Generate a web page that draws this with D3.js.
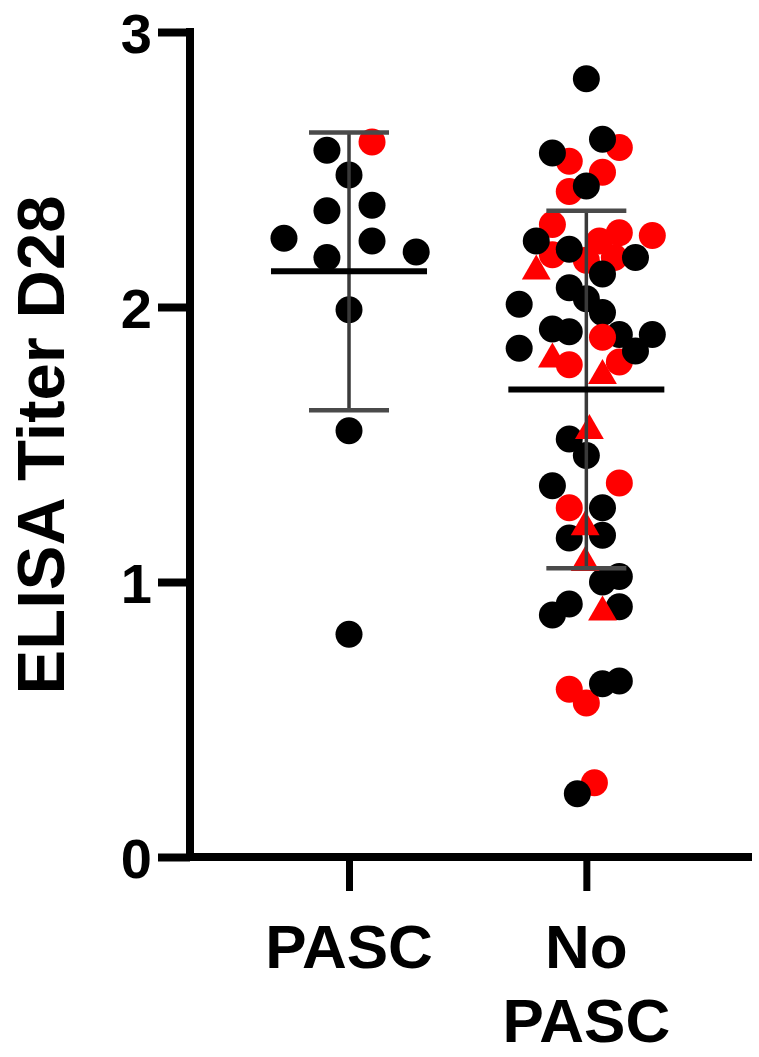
<!DOCTYPE html>
<html><head><meta charset="utf-8">
<script src="https://cdn.jsdelivr.net/npm/d3@7/dist/d3.min.js"></script>
<style>html,body{margin:0;padding:0;background:#fff;}svg{display:block;}</style>
</head><body>
<svg id="chart" width="759" height="1057"></svg>
<script>
// ---------- data ----------
const categories = ["PASC", "No PASC"];
const categoryLabels = [["PASC"], ["No", "PASC"]];
const yTicks = [0, 1, 2, 3];
const yTitle = "ELISA Titer D28";

// subgroup: 0 = black circle, 1 = red circle, 2 = red triangle
const pascValues   = [2.60, 2.57, 2.48, 2.37, 2.35, 2.25, 2.24, 2.20, 2.18, 1.99, 1.55, 0.81];
const pascJitter   = [0.097, -0.093, 0, 0.097, -0.093, -0.274, 0.097, 0.283, -0.093, 0, 0, 0];
const pascSubgroup = [1, 0, 0, 0, 0, 0, 0, 0, 0, 0, 0, 0];

const noPascValues = [
  2.58, 2.53, 2.49, 2.42, 2.30, 2.19, 2.24, 2.27, 2.26, 2.17, 2.18, 1.79, 1.80, 1.36, 0.61, 0.56, 0.27,
  2.83, 2.61, 2.56, 2.44, 2.24, 2.21, 2.18, 2.12, 2.07, 2.03, 1.98, 2.01, 1.92, 1.91, 1.90, 1.90,
  1.85, 1.84, 1.52, 1.46, 1.35, 1.27, 1.16, 1.17, 1.00, 1.02, 0.92, 0.88, 0.91, 0.63, 0.64, 0.23,
  1.89, 1.27,
  2.13, 1.81, 1.75, 1.55, 1.20, 1.07, 0.89];
const noPascJitter = [
  0.139, -0.072, 0.068, -0.072, -0.143, -0.143, 0.055, 0.139, 0.278, 0, 0.118, -0.072, 0.139, 0.139, -0.072, 0, 0.034,
  0, 0.068, -0.143, 0, -0.211, -0.072, 0.207, 0.068, -0.072, 0, 0.068, -0.283, -0.143, -0.072, 0.139, 0.278,
  -0.283, 0.207, -0.072, 0, -0.143, 0.068, -0.072, 0.068, 0.068, 0.139, -0.072, -0.143, 0.139, 0.068, 0.139, -0.038,
  0.068, -0.072,
  -0.211, -0.143, 0.068, 0.013, -0.005, -0.005, 0.068];
const noPascSubgroup = [
  1,1,1,1,1,1,1,1,1,1,1,1,1,1,1,1,1,
  0,0,0,0,0,0,0,0,0,0,0,0,0,0,0,0,
  0,0,0,0,0,0,0,0,0,0,0,0,0,0,0,0,
  1,1,
  2,2,2,2,2,2,2];

const groupMeans = [2.13, 1.70];
const groupSD    = [0.505, 0.65];

// ---------- layout ----------
const svg = d3.select("#chart");
const axisX0 = 190, axisX1 = 752, axisY0 = 857, axisY1 = 32;
const font = "'Liberation Sans', Arial, Helvetica, sans-serif";

const x = d3.scaleLinear().domain([0.33, 2.698]).range([axisX0, axisX1]);
const y = d3.scaleLinear().domain([0, 3]).range([axisY0, axisY1]);

const subColor = ["#000000", "#ff0000", "#ff0000"];
const R = 13.5;

const groups = [
  {values: pascValues, jitter: pascJitter, sub: pascSubgroup},
  {values: noPascValues, jitter: noPascJitter, sub: noPascSubgroup}
];

// points
const gPts = svg.append("g");
groups.forEach((g, gi) => {
  const pts = g.values.map((v, i) => ({v, j: g.jitter[i], s: g.sub[i], c: gi + 1}));
  pts.forEach(p => {
    const cx = x(p.c + p.j), cy = y(p.v);
    if (p.s === 2) {
      gPts.append("path")
        .attr("d", d3.symbol(d3.symbolTriangle, 360)())
        .attr("transform", `translate(${cx},${cy})`)
        .attr("fill", subColor[p.s]);
    } else {
      gPts.append("circle").attr("cx", cx).attr("cy", cy).attr("r", R)
        .attr("fill", subColor[p.s]);
    }
  });
});

// error bars (mean ± SD)
const gErr = svg.append("g");
groupMeans.forEach((m, i) => {
  const cx = x(i + 1);
  const lo = m - groupSD[i], hi = m + groupSD[i];
  gErr.append("line").attr("x1", cx).attr("x2", cx).attr("y1", y(hi)).attr("y2", y(lo))
    .attr("stroke", "#3a3a3a").attr("stroke-width", 3.5);
  [lo, hi].forEach(v => {
    gErr.append("line").attr("x1", cx - 40).attr("x2", cx + 40).attr("y1", y(v)).attr("y2", y(v))
      .attr("stroke", "#4a4a4a").attr("stroke-width", 4.5);
  });
  gErr.append("line").attr("x1", cx - 78).attr("x2", cx + 78).attr("y1", y(m)).attr("y2", y(m))
    .attr("stroke", "#000").attr("stroke-width", 6);
});

// y axis
const yAxis = svg.append("g").attr("transform", `translate(${axisX0},0)`)
  .call(d3.axisLeft(y).tickValues(yTicks).tickSize(32).tickSizeOuter(0).tickPadding(6).tickFormat(d3.format("d")));
yAxis.select(".domain").attr("stroke", "#000").attr("stroke-width", 8).attr("d", `M0,${axisY1 - 4}V${axisY0 + 4}`);
yAxis.selectAll(".tick line").attr("stroke", "#000").attr("stroke-width", 8);
yAxis.selectAll(".tick text").attr("font-family", font).attr("font-weight", "bold")
  .attr("font-size", 56).attr("fill", "#000").attr("dy", "0.36em");

// x axis
const xAxis = svg.append("g").attr("transform", `translate(0,${axisY0})`)
  .call(d3.axisBottom(x).tickValues([1, 2]).tickSize(34).tickSizeOuter(0).tickFormat(""));
xAxis.select(".domain").attr("stroke", "#000").attr("stroke-width", 8).attr("d", `M${axisX0 - 4},0H${axisX1}`);
xAxis.selectAll(".tick line").attr("stroke", "#000").attr("stroke-width", 7);

// x labels
categoryLabels.forEach((lines, i) => {
  const t = svg.append("text").attr("x", x(i + 1)).attr("y", 968)
    .attr("text-anchor", "middle").attr("font-family", font).attr("font-weight", "bold")
    .attr("font-size", 62).attr("fill", "#000");
  lines.forEach((ln, k) => {
    t.append("tspan").attr("x", x(i + 1)).attr("dy", k === 0 ? 0 : 74).text(ln);
  });
});

// y title
svg.append("text").attr("transform", `translate(64,445) rotate(-90)`)
  .attr("text-anchor", "middle").attr("font-family", font).attr("font-weight", "bold")
  .attr("font-size", 67).attr("fill", "#000").text(yTitle);
</script>
</body></html>
